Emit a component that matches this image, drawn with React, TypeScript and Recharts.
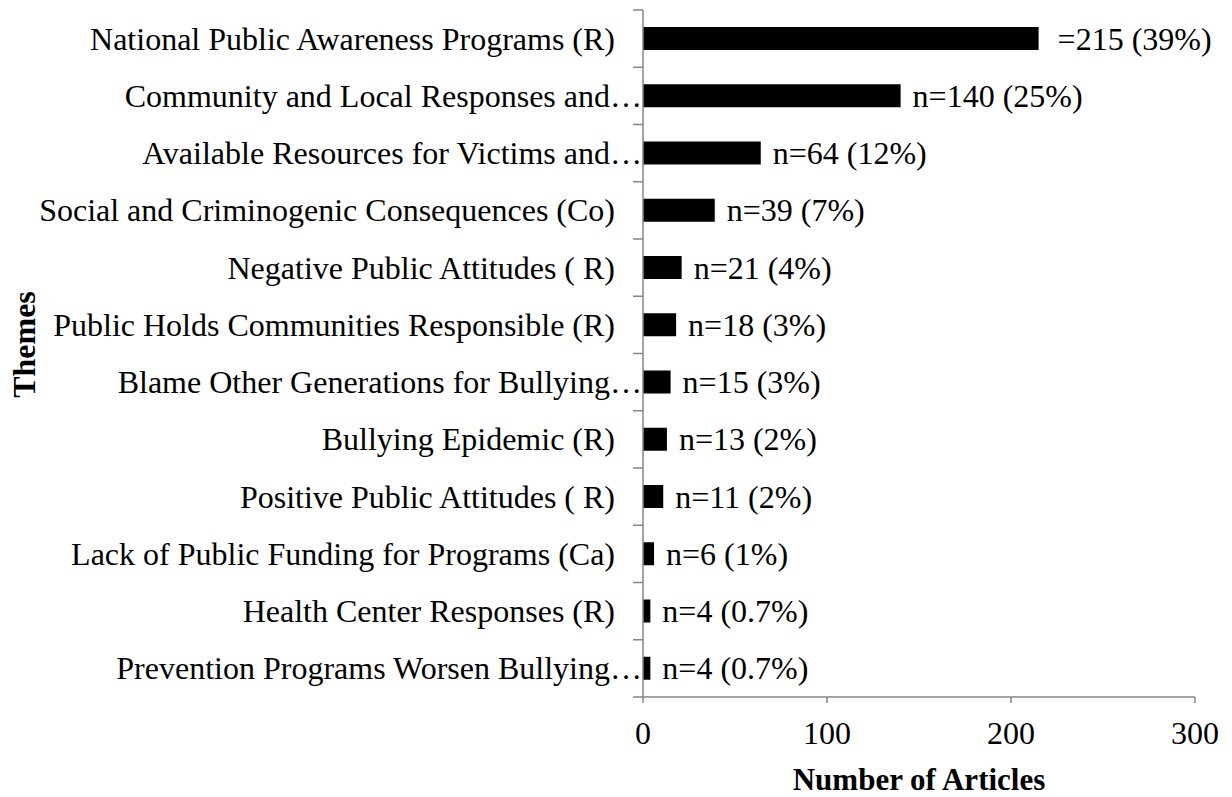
import React from 'react';
import { BarChart, Bar, XAxis, YAxis, LabelList } from 'recharts';

const themes = [
  'National Public Awareness Programs (R)',
  'Community and Local Responses and…',
  'Available Resources for Victims and…',
  'Social and Criminogenic Consequences (Co)',
  'Negative Public Attitudes ( R)',
  'Public Holds Communities Responsible (R)',
  'Blame Other Generations for Bullying…',
  'Bullying Epidemic (R)',
  'Positive Public Attitudes ( R)',
  'Lack of Public Funding for Programs (Ca)',
  'Health Center Responses (R)',
  'Prevention Programs Worsen Bullying…',
];

const counts = [215, 140, 64, 39, 21, 18, 15, 13, 11, 6, 4, 4];

const valueLabels = [
  '=215 (39%)',
  'n=140 (25%)',
  'n=64 (12%)',
  'n=39 (7%)',
  'n=21 (4%)',
  'n=18 (3%)',
  'n=15 (3%)',
  'n=13 (2%)',
  'n=11 (2%)',
  'n=6 (1%)',
  'n=4 (0.7%)',
  'n=4 (0.7%)',
];

const xTicks = [0, 100, 200, 300];

const data = themes.map((t, i) => ({ theme: t, count: counts[i], label: valueLabels[i] }));

const FONT = '"Liberation Serif", "Times New Roman", serif';
const AXIS_GRAY = '#868686';
const FS = 32;

const CHART_W = 1232;
const CHART_H = 797;
const MARGIN_TOP = 10;
const X_AXIS_H = 100;
const PLOT_H = CHART_H - MARGIN_TOP - X_AXIS_H;
const BAND = PLOT_H / themes.length;

const ThemeTick = (props: any) => {
  const { x, y, payload, index } = props;
  const text: string = payload.value;
  const truncated = text.endsWith('…');
  const tx = truncated ? x - 1 : x - 28;
  const isLast = index === themes.length - 1;
  return (
    <g>
      <line x1={x - 10} x2={x} y1={y - BAND / 2} y2={y - BAND / 2} stroke={AXIS_GRAY} strokeWidth={1.5} />
      {isLast && (
        <line x1={x - 10} x2={x} y1={y + BAND / 2} y2={y + BAND / 2} stroke={AXIS_GRAY} strokeWidth={1.5} />
      )}
      <text x={tx} y={y} textAnchor="end" dominantBaseline="central" fontFamily={FONT} fontSize={FS} fill="#000">
        {text}
      </text>
    </g>
  );
};

const ValueLabel = (props: any) => {
  const { x, y, width, height, value } = props;
  const s = String(value);
  const gap = s.startsWith('=') ? 19 : 12;
  return (
    <text x={x + width + gap} y={y + height / 2} dominantBaseline="central" fontFamily={FONT} fontSize={FS} fill="#000">
      {s}
    </text>
  );
};

export default function App() {
  return (
    <div style={{ position: 'absolute', left: 0, top: 0, width: CHART_W, height: CHART_H, background: '#fff' }}>
      <BarChart
        width={CHART_W}
        height={CHART_H}
        data={data}
        layout="vertical"
        margin={{ top: MARGIN_TOP, right: 37, bottom: 0, left: 0 }}
        barSize={23}
      >
        <XAxis
          type="number"
          domain={[0, 300]}
          ticks={xTicks}
          height={X_AXIS_H}
          stroke={AXIS_GRAY}
          strokeWidth={1.5}
          tickSize={6}
          tickMargin={18}
          tick={{ fill: '#000', fontFamily: FONT, fontSize: FS }}
          label={(p: any) => {
            const vb = p.viewBox;
            return (
              <text x={vb.x + vb.width / 2} y={vb.y + 93} textAnchor="middle" fontFamily={FONT} fontSize={FS - 1} fontWeight="bold" fill="#000">
                Number of Articles
              </text>
            );
          }}
        />
        <YAxis
          type="category"
          dataKey="theme"
          width={643}
          axisLine={{ stroke: AXIS_GRAY, strokeWidth: 1.5 }}
          tickLine={false}
          tickSize={0}
          tickMargin={0}
          interval={0}
          tick={<ThemeTick />}
          label={(p: any) => {
            const vb = p.viewBox;
            const cx = 24;
            const cy = vb.y + vb.height / 2 - 9;
            return (
              <text x={cx} y={cy} transform={`rotate(-90, ${cx}, ${cy})`} textAnchor="middle" dominantBaseline="central" fontFamily={FONT} fontSize={FS} fontWeight="bold" fill="#000">
                Themes
              </text>
            );
          }}
        />
        <Bar dataKey="count" fill="#000" isAnimationActive={false}>
          <LabelList dataKey="label" content={<ValueLabel />} />
        </Bar>
      </BarChart>
    </div>
  );
}
